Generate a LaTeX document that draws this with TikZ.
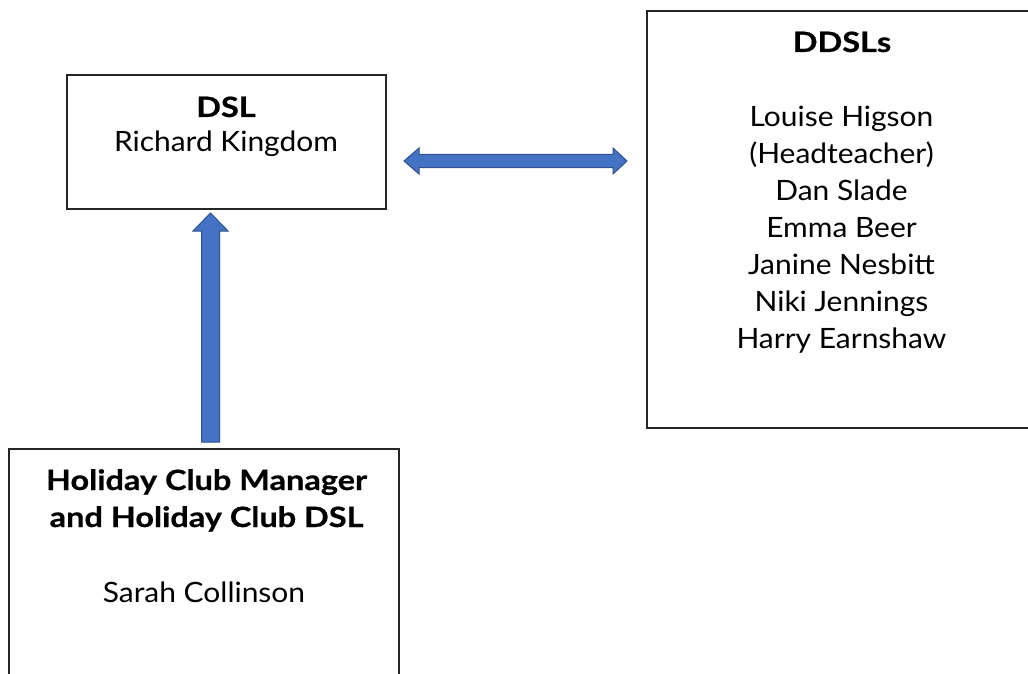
\documentclass[tikz,border=0pt]{standalone}
\usepackage{fontspec}
\setmainfont{Lato}[FakeStretch=1.07, BoldFeatures={FakeStretch=1.16, FakeBold=0.6}]
\usetikzlibrary{calc}
\definecolor{arrowfill}{HTML}{4472C4}
\definecolor{arrowline}{HTML}{2F528F}
\tikzset{
  box/.style={draw=black!85, line width=1.5pt, fill=none},
  txt/.style={inner sep=0pt, anchor=base, font=\fontsize{28}{37}\selectfont},
  boldtxt/.style={txt, font=\fontsize{28}{37}\selectfont\bfseries},
  blockarrow/.style={fill=arrowfill, draw=arrowline, line width=1pt, line join=miter}
}
\begin{document}
\begin{tikzpicture}[x=1pt,y=-1pt]
\useasboundingbox (0,0) rectangle (1028,674);
% boxes
\draw[box] (67,75) rectangle (386,209);
\node[inner sep=0pt] (dsl) at (226.5,142) {};
\draw[box] (647,11) rectangle (1030,428);
\node[inner sep=0pt] (ddsl) at (838,220) {};
\draw[box] (9,680) -- (9,449) -- (399,449) -- (399,680);
\node[inner sep=0pt] (hol) at (204,560) {};
% texts
\node[boldtxt] (t1) at (226,117) {DSL};
\node[txt] (t2) at (226,152) {Richard Kingdom};
\node[boldtxt] (t3) at (842,52) {DDSLs};
\node[txt] (t4) at (841.5,127) {Louise Higson};
\node[txt] (t5) at (841.5,163.8) {(Headteacher)};
\node[txt] (t6) at (841.5,200.6) {Dan Slade};
\node[txt] (t7) at (841.5,237.4) {Emma Beer};
\node[txt] (t8) at (841.5,274.2) {Janine Nesbitt};
\node[txt] (t9) at (841.5,311) {Niki Jennings};
\node[txt] (t10) at (841.5,348) {Harry Earnshaw};
\node[boldtxt] (t11) at (206.5,490) {Holiday Club Manager};
\node[boldtxt] (t12) at (206.5,527) {and Holiday Club DSL};
\node[txt] (t13) at (204,602) {Sarah Collinson};
% horizontal double block arrow (DSL <-> DDSLs)
\coordinate (hl) at (404,161);
\coordinate (hr) at (627,161);
\draw[blockarrow] (hl) -- ($(hl)+(15,-13)$) -- ($(hl)+(15,-6.5)$) -- ($(hr)+(-14,-6.5)$) -- ($(hr)+(-14,-13)$) -- (hr)
  -- ($(hr)+(-14,13)$) -- ($(hr)+(-14,6.5)$) -- ($(hl)+(15,6.5)$) -- ($(hl)+(15,13)$) -- cycle;
% vertical block arrow (Holiday -> DSL)
\coordinate (vt) at (210.5,213);
\coordinate (vb) at (210.5,442);
\draw[blockarrow] (vt) -- ($(vt)+(17.5,18)$) -- ($(vt)+(9,18)$) -- ($(vb)+(9,0)$) -- ($(vb)+(-9,0)$) -- ($(vt)+(-9,18)$) -- ($(vt)+(-17.5,18)$) -- cycle;
\end{tikzpicture}
\end{document}
